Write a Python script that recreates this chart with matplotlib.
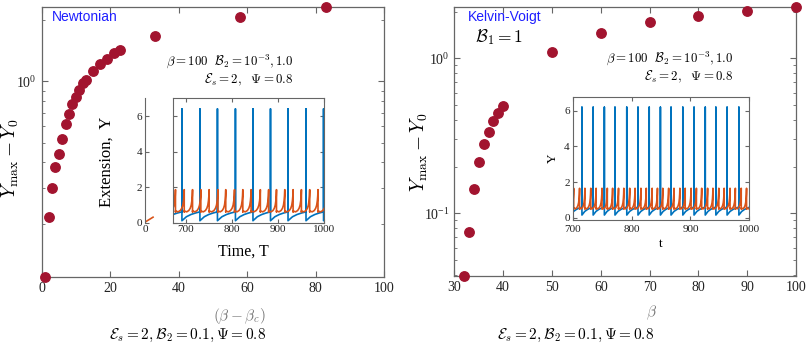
import numpy as np
import matplotlib
matplotlib.use('Agg')
import matplotlib.pyplot as plt
from matplotlib.ticker import NullFormatter

plt.rcParams['mathtext.fontset'] = 'cm'
plt.rcParams['font.family'] = ['Liberation Serif', 'DejaVu Serif']

# ---- main scatter data ----
newt_x = [1, 2, 3, 4, 5, 6, 7, 8, 9, 10, 11, 12, 13, 15, 17, 19, 21, 23, 33, 58, 83]
newt_y = [0.11, 0.217, 0.299, 0.379, 0.438, 0.523, 0.62, 0.694, 0.77, 0.837,
          0.903, 0.975, 1.01, 1.12, 1.22, 1.29, 1.38, 1.42, 1.67, 2.07, 2.32]

kv_x = [32, 33, 34, 35, 36, 37, 38, 39, 40, 50, 60, 70, 80, 90, 100]
kv_y = [0.0394, 0.076, 0.1436, 0.214, 0.280, 0.336, 0.396, 0.441, 0.492,
        1.10, 1.45, 1.71, 1.87, 2.02, 2.13]

# ---- inset time series (spike times / levels) ----
newt_blue_spikes = [692, 731, 769, 808, 846, 884, 922, 961, 999]
newt_blue_levels = [0.1, 0.6, 6.4]          # after reset, before spike, spike top
newt_orange_peaks = [678, 697, 715, 733, 751, 770, 787, 806, 824,
                     842, 862, 880, 897, 915, 933, 951, 969, 987]
newt_orange_levels = [0.6, 1.85]            # trough, peak
newt_transient_t = [0, 0, 29]
newt_transient_y = [0.6, 0.02, 0.3]

kv_blue_spikes = [716, 735, 754, 772, 792, 811, 830, 849, 867, 887, 906, 925, 943, 962, 982]
kv_blue_levels = [0.15, 0.6, 6.2]
kv_orange_peaks = [702, 712, 721, 731, 740, 750, 759, 768, 778, 787, 797, 806, 816, 825,
                   835, 844, 853, 863, 872, 882, 891, 901, 910, 919, 929, 938, 948, 957,
                   967, 976, 986, 995]
kv_orange_levels = [0.5, 1.65]

# shape of one rise between two resets (fraction of cycle, fraction of rise)
blue_rise_frac = [0.0, 0.25, 0.5, 0.75, 1.0]
blue_rise_val = [0.0, 0.45, 0.7, 0.87, 1.0]
orange_rise_frac = [0.0, 0.3, 0.55, 0.72, 0.84, 0.92, 0.97, 1.0]
orange_rise_val = [0.04, 0.0, 0.06, 0.16, 0.3, 0.5, 0.72, 1.0]

BLUE = '#0072BD'
ORANGE = '#D95319'
DOT = '#A2142F'
SPINE = '#666666'


def relax_series(events, low, high, top, frac, val):
    """polyline: rise low->high following the shape, jump to top, drop to low"""
    ev = list(events)
    per = ev[1] - ev[0]
    ev = [ev[0] - per] + ev + [ev[-1] + per]
    ts, ys = [], []
    for i in range(len(ev) - 1):
        a, b = ev[i], ev[i + 1]
        for f, v in zip(frac, val):
            ts.append(a + f * (b - a))
            ys.append(low + v * (high - low))
        if i < len(ev) - 2:
            ts += [b, b]
            ys += [top, low]
    return ts, ys


def style_main(ax):
    for s in ax.spines.values():
        s.set_color(SPINE)
        s.set_linewidth(0.9)
    ax.tick_params(which='both', direction='in', top=True, right=True,
                   colors=SPINE, labelcolor='#222222', labelsize=10)
    ax.tick_params(which='major', length=4)
    ax.tick_params(which='minor', length=2.5)


def style_inset(ax):
    for s in ax.spines.values():
        s.set_color(SPINE)
        s.set_linewidth(0.8)
    ax.tick_params(which='both', direction='in', top=True, right=True,
                   colors=SPINE, labelcolor='#222222', labelsize=8, length=3, pad=2)


fig = plt.figure(figsize=(8.09, 3.45), dpi=100)

# ================= left: Newtonian =================
ax1 = fig.add_axes([0.0515, 0.198, 0.4235, 0.7826])
ax1.plot(newt_x, newt_y, 'o', color=DOT, ms=6.8, clip_on=False, zorder=5)
ax1.set_yscale('log')
ax1.set_xlim(0, 100)
ax1.set_ylim(0.11, 2.32)
ax1.set_xticks([0, 20, 40, 60, 80, 100])
ax1.yaxis.set_minor_formatter(NullFormatter())
style_main(ax1)
ax1.set_ylabel(r'$Y_{\max} - Y_0$', fontsize=14)
ax1.yaxis.set_label_coords(-0.06, 0.44)

fig.text(52 / 809, 1 - 17 / 345, 'Newtonian', color='#1f1fff', fontsize=10,
         family='Liberation Sans', ha='left', va='center')
fig.text(293 / 809, 1 - 61 / 345, r'$\beta = 100\ \ \mathcal{B}_2 = 10^{-3}, 1.0$',
         fontsize=9.3, ha='right', va='center')
fig.text(293 / 809, 1 - 80 / 345, r'$\mathcal{E}_s = 2,\ \ \Psi = 0.8$',
         fontsize=9.3, ha='right', va='center')
fig.text(239 / 809, 1 - 316 / 345, r'$(\beta - \beta_c)$', fontsize=11,
         color='#777777', ha='center', va='center')
fig.text(188 / 809, 1 - 335 / 345, r'$\mathcal{E}_s = 2, \mathcal{B}_2 = 0.1, \Psi = 0.8$',
         fontsize=11, ha='center', va='center')

# inset: transient piece
axt = fig.add_axes([145 / 809, 1 - 222.5 / 345, 27.7 / 809, 124.2 / 345])
axt.plot(newt_transient_t, newt_transient_y, color=ORANGE, lw=1.2)
axt.set_xlim(0, 100)
axt.set_ylim(0, 7)
for k in ['top', 'right', 'bottom']:
    axt.spines[k].set_visible(False)
axt.spines['left'].set_color(SPINE)
axt.spines['left'].set_linewidth(0.8)
axt.set_xticks([0])
axt.set_yticks([0, 2, 4, 6])
axt.tick_params(direction='in', colors=SPINE, labelcolor='#222222', labelsize=8,
                length=3, pad=2)
axt.tick_params(axis='x', length=0)
axt.patch.set_alpha(0)
fig.text(107 / 809, 1 - 162 / 345, 'Extension,  Y', fontsize=12, rotation=90,
         ha='center', va='center')

# inset: zoomed window
axi1 = fig.add_axes([172.7 / 809, 1 - 222.5 / 345, 151.3 / 809, 124.2 / 345])
bt, by = relax_series(newt_blue_spikes, *newt_blue_levels, blue_rise_frac, blue_rise_val)
ot, oy = relax_series(newt_orange_peaks, newt_orange_levels[0], newt_orange_levels[1],
                      newt_orange_levels[0], orange_rise_frac, orange_rise_val)
axi1.plot(bt, by, color=BLUE, lw=1.2)
axi1.plot(ot, oy, color=ORANGE, lw=1.2)
axi1.set_xlim(672, 1000)
axi1.set_ylim(0, 7)
axi1.set_xticks([700, 800, 900, 1000])
axi1.set_yticks([0, 2, 4, 6])
style_inset(axi1)
axi1.tick_params(labelleft=False)
fig.text(243 / 809, 1 - 252 / 345, 'Time, T', fontsize=11.5, ha='center', va='center')

# ================= right: Kelvin-Voigt =================
ax2 = fig.add_axes([0.5616, 0.2, 0.4224, 0.7788])
ax2.plot(kv_x, kv_y, 'o', color=DOT, ms=6.8, clip_on=False, zorder=5)
ax2.set_yscale('log')
ax2.set_xlim(30, 100)
ax2.set_ylim(0.0394, 2.13)
ax2.set_xticks([30, 40, 50, 60, 70, 80, 90, 100])
ax2.yaxis.set_minor_formatter(NullFormatter())
style_main(ax2)
ax2.set_ylabel(r'$Y_{\max} - Y_0$', fontsize=14)
ax2.yaxis.set_label_coords(-0.072, 0.46)

fig.text(468 / 809, 1 - 17 / 345, 'Kelvin-Voigt', color='#1f1fff', fontsize=10,
         family='Liberation Sans', ha='left', va='center')
fig.text(475 / 809, 1 - 37 / 345, r'$\mathcal{B}_1 = 1$', fontsize=12.5,
         ha='left', va='center')
fig.text(733 / 809, 1 - 58 / 345, r'$\beta = 100\ \ \mathcal{B}_2 = 10^{-3}, 1.0$',
         fontsize=9.3, ha='right', va='center')
fig.text(733 / 809, 1 - 77 / 345, r'$\mathcal{E}_s = 2,\ \ \Psi = 0.8$',
         fontsize=9.3, ha='right', va='center')
fig.text(652 / 809, 1 - 313 / 345, r'$\beta$', fontsize=11, color='#777777',
         ha='center', va='center')
fig.text(576 / 809, 1 - 335 / 345, r'$\mathcal{E}_s = 2, \mathcal{B}_2 = 0.1, \Psi = 0.8$',
         fontsize=11, ha='center', va='center')

axi2 = fig.add_axes([572.5 / 809, 1 - 219.5 / 345, 177 / 809, 123 / 345])
bt, by = relax_series(kv_blue_spikes, *kv_blue_levels, blue_rise_frac, blue_rise_val)
ot, oy = relax_series(kv_orange_peaks, kv_orange_levels[0], kv_orange_levels[1],
                      kv_orange_levels[0], orange_rise_frac, orange_rise_val)
axi2.plot(bt, by, color=BLUE, lw=1.2)
axi2.plot(ot, oy, color=ORANGE, lw=1.2)
axi2.set_xlim(700, 1000)
axi2.set_ylim(-0.1, 6.8)
axi2.set_xticks([700, 800, 900, 1000])
axi2.set_yticks([0, 2, 4, 6])
style_inset(axi2)
axi2.tick_params(axis='x', pad=4)
axi2.set_xlabel('t', fontsize=9.5, labelpad=3)
axi2.set_ylabel('Y', fontsize=9.5, labelpad=4)

fig.savefig('out.png', dpi=100)
